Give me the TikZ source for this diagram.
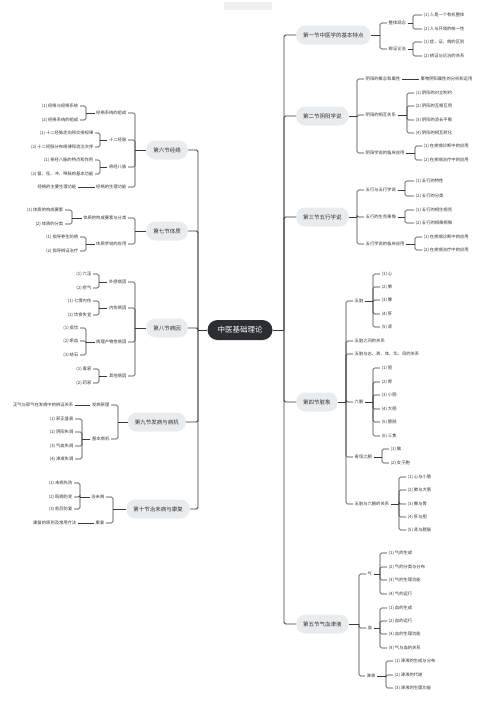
\documentclass[tikz,border=0pt]{standalone}
\usepackage{fontspec}
\setmainfont{Noto Sans CJK SC}
\usetikzlibrary{calc}
\definecolor{ln}{HTML}{3A3A3A}
\definecolor{tx}{HTML}{333333}
\definecolor{pill}{HTML}{E9ECEF}
\definecolor{rootc}{HTML}{2B2F33}
\tikzset{
  lf/.style={font=\fontsize{4.3}{5}\selectfont, text=tx, inner xsep=1.5pt, inner ysep=1pt},
  sec/.style={font=\fontsize{5.5}{6.5}\selectfont, text=tx, fill=pill, rounded corners=9pt, minimum height=19pt, inner xsep=7pt},
  rootn/.style={font=\fontsize{7.5}{9}\selectfont, text=white, fill=rootc, rounded corners=10pt, minimum height=20pt, minimum width=65pt},
  conn/.style={draw=ln, line width=0.65pt},
  trunk/.style={draw=ln, line width=0.9pt}
}
\newcommand\rbr[4][conn]{%
  \draw[#1] let \p1=(#2.east) in (#2.east) -- (#3pt,\y1);
  \foreach \c in {#4}{\draw[#1,rounded corners=1.5pt] let \p1=(#2.east) in (#3pt,\y1) |- (\c.west);}}
\newcommand\lbr[4][conn]{%
  \draw[#1] let \p1=(#2.west) in (#2.west) -- (#3pt,\y1);
  \foreach \c in {#4}{\draw[#1,rounded corners=1.5pt] let \p1=(#2.west) in (#3pt,\y1) |- (\c.east);}}
\begin{document}
\begin{tikzpicture}[x=1pt,y=-1pt]
\fill[white] (0,0) rectangle (497,718);
\useasboundingbox (0,0) rectangle (497,718);
\fill[gray!12] (224,2) rectangle (272,10);
% root
\node[rootn] (root) at (240,330) {中医基础理论};
% ---------- right side ----------
\node[sec,anchor=west] (s1) at (296,35) {第一节中医学的基本特点};
\node[sec,anchor=west] (s2) at (296,116) {第二节阴阳学说};
\node[sec,anchor=west] (s3) at (296,217) {第三节五行学说};
\node[sec,anchor=west] (s4) at (296,402) {第四节脏象};
\node[sec,anchor=west] (s5) at (296,624) {第五节气血津液};
\rbr[trunk]{root}{284}{s1,s2,s3,s4,s5}
% s1
\node[lf,anchor=west] (a1) at (387,23) {整体观念};
\node[lf,anchor=west] (a2) at (387,49) {辨证论治};
\node[lf,anchor=west] (a11) at (422,15) {(1)~人是一个有机整体};
\node[lf,anchor=west] (a12) at (422,29) {(2)~人与环境的统一性};
\node[lf,anchor=west] (a21) at (422,42) {(1)~症、证、病的区别};
\node[lf,anchor=west] (a22) at (422,56) {(2)~辨证与论治的关系};
\rbr{s1}{380}{a1,a2}
\rbr{a1}{413}{a11,a12}
\rbr{a2}{413}{a21,a22}
% s2
\node[lf,anchor=west] (b1) at (364,79) {阴阳的概念和属性};
\node[lf,anchor=west] (b2) at (364,115) {阴阳的相互关系};
\node[lf,anchor=west] (b3) at (364,153) {阴阳学说的临床应用};
\node[lf,anchor=west] (b11) at (419,79) {事物阴阳属性的分析和运用};
\node[lf,anchor=west] (b21) at (414,93) {(1)~阴阳的对立制约};
\node[lf,anchor=west] (b22) at (414,106) {(2)~阴阳的互根互用};
\node[lf,anchor=west] (b23) at (414,120) {(3)~阴阳的消长平衡};
\node[lf,anchor=west] (b24) at (414,133) {(4)~阴阳的相互转化};
\node[lf,anchor=west] (b31) at (422,146) {(1)~在疾病诊断中的应用};
\node[lf,anchor=west] (b32) at (422,160) {(2)~在疾病治疗中的应用};
\rbr{s2}{357}{b1,b2,b3}
\draw[conn] (b1.east) -- (b11.west);
\rbr{b2}{407}{b21,b22,b23,b24}
\rbr{b3}{415}{b31,b32}
% s3
\node[lf,anchor=west] (c1) at (364,190) {五行与五行学说};
\node[lf,anchor=west] (c2) at (364,217) {五行的生克乘侮};
\node[lf,anchor=west] (c3) at (364,244) {五行学说的临床应用};
\node[lf,anchor=west] (c11) at (414,181) {(1)~五行的特性};
\node[lf,anchor=west] (c12) at (414,196) {(2)~五行的分类};
\node[lf,anchor=west] (c21) at (414,210) {(1)~五行的相生相克};
\node[lf,anchor=west] (c22) at (414,223) {(2)~五行的相乘相侮};
\node[lf,anchor=west] (c31) at (422,237) {(1)~在疾病诊断中的应用};
\node[lf,anchor=west] (c32) at (422,250) {(2)~在疾病治疗中的应用};
\rbr{s3}{357}{c1,c2,c3}
\rbr{c1}{405}{c11,c12}
\rbr{c2}{405}{c21,c22}
\rbr{c3}{415}{c31,c32}
% s4
\node[lf,anchor=west] (d1) at (353,301) {五脏};
\node[lf,anchor=west] (d2) at (353,341) {五脏之间的关系};
\node[lf,anchor=west] (d3) at (353,354) {五脏与志、液、体、华、窍的关系};
\node[lf,anchor=west] (d4) at (353,402) {六腑};
\node[lf,anchor=west] (d5) at (353,457) {奇恒之腑};
\node[lf,anchor=west] (d6) at (353,504) {五脏与六腑的关系};
\rbr{s4}{346}{d1,d2,d3,d4,d5,d6}
\node[lf,anchor=west] (d11) at (380,274) {(1)~心};
\node[lf,anchor=west] (d12) at (380,287) {(2)~肺};
\node[lf,anchor=west] (d13) at (380,300) {(3)~脾};
\node[lf,anchor=west] (d14) at (380,314) {(4)~肝};
\node[lf,anchor=west] (d15) at (380,327) {(5)~肾};
\rbr{d1}{373}{d11,d12,d13,d14,d15}
\node[lf,anchor=west] (d41) at (380,368) {(1)~胆};
\node[lf,anchor=west] (d42) at (380,382) {(2)~胃};
\node[lf,anchor=west] (d43) at (380,395) {(3)~小肠};
\node[lf,anchor=west] (d44) at (380,409) {(4)~大肠};
\node[lf,anchor=west] (d45) at (380,422) {(5)~膀胱};
\node[lf,anchor=west] (d46) at (380,436) {(6)~三焦};
\rbr{d4}{373}{d41,d42,d43,d44,d45,d46}
\node[lf,anchor=west] (d51) at (389,449) {(1)~脑};
\node[lf,anchor=west] (d52) at (389,463) {(2)~女子胞};
\rbr{d5}{382}{d51,d52}
\node[lf,anchor=west] (d61) at (406,477) {(1)~心与小肠};
\node[lf,anchor=west] (d62) at (406,490) {(2)~肺与大肠};
\node[lf,anchor=west] (d63) at (406,504) {(3)~脾与胃};
\node[lf,anchor=west] (d64) at (406,517) {(4)~肝与胆};
\node[lf,anchor=west] (d65) at (406,530) {(5)~肾与膀胱};
\rbr{d6}{399}{d61,d62,d63,d64,d65}
% s5
\node[lf,anchor=west] (e1) at (366,574) {气};
\node[lf,anchor=west] (e2) at (366,628) {血};
\node[lf,anchor=west] (e3) at (365,676) {津液};
\rbr{s5}{359}{e1,e2,e3}
\node[lf,anchor=west] (e11) at (387,553) {(1)~气的生成};
\node[lf,anchor=west] (e12) at (387,567) {(2)~气的分类与分布};
\node[lf,anchor=west] (e13) at (387,580) {(3)~气的生理功能};
\node[lf,anchor=west] (e14) at (387,594) {(4)~气的运行};
\rbr{e1}{380}{e11,e12,e13,e14}
\node[lf,anchor=west] (e21) at (387,608) {(1)~血的生成};
\node[lf,anchor=west] (e22) at (387,621) {(2)~血的运行};
\node[lf,anchor=west] (e23) at (387,634) {(3)~血的生理功能};
\node[lf,anchor=west] (e24) at (387,648) {(4)~气与血的关系};
\rbr{e2}{380}{e21,e22,e23,e24}
\node[lf,anchor=west] (e31) at (393,661) {(1)~津液的生成与分布};
\node[lf,anchor=west] (e32) at (393,675) {(2)~津液的代谢};
\node[lf,anchor=west] (e33) at (393,688) {(3)~津液的生理功能};
\rbr{e3}{386}{e31,e32,e33}
% ---------- left side ----------
\node[sec,anchor=east] (s6) at (188,150) {第六节经络};
\node[sec,anchor=east] (s7) at (188,231) {第七节体质};
\node[sec,anchor=east] (s8) at (188,328) {第八节病因};
\node[sec,anchor=east] (s9) at (186,422) {第九节发病与病机};
\node[sec,anchor=east] (s10) at (190,509) {第十节治未病与康复};
\lbr[trunk]{root}{198}{s6,s7,s8,s9,s10}
% s6
\node[lf,anchor=east] (f1) at (128,113) {经络系统的组成};
\node[lf,anchor=east] (f2) at (128,140) {十二经脉};
\node[lf,anchor=east] (f3) at (128,167) {奇经八脉};
\node[lf,anchor=east] (f4) at (128,187) {经络的生理功能};
\lbr{s6}{135}{f1,f2,f3,f4}
\node[lf,anchor=east] (f11) at (80,106) {(1)~经络与经络系统};
\node[lf,anchor=east] (f12) at (80,120) {(2)~经络系统的组成};
\lbr{f1}{86}{f11,f12}
\node[lf,anchor=east] (f21) at (95,133) {(1)~十二经脉走向和交接规律};
\node[lf,anchor=east] (f22) at (95,147) {(2)~十二经脉分布规律和流注次序};
\lbr{f2}{100}{f21,f22}
\node[lf,anchor=east] (f31) at (95,160) {(1)~奇经八脉的特点和作用};
\node[lf,anchor=east] (f32) at (95,174) {(2)~督、任、冲、带脉的基本功能};
\lbr{f3}{100}{f31,f32}
\node[lf,anchor=east] (f41) at (78,187) {经络的主要生理功能};
\draw[conn] (f4.west) -- (f41.east);
% s7
\node[lf,anchor=east] (g1) at (128,218) {体质的构成要素与分类};
\node[lf,anchor=east] (g2) at (128,244) {体质学说的应用};
\lbr{s7}{135}{g1,g2}
\node[lf,anchor=east] (g11) at (65,210) {(1)~体质的构成要素};
\node[lf,anchor=east] (g12) at (65,224) {(2)~体质的分类};
\lbr{g1}{72}{g11,g12}
\node[lf,anchor=east] (g21) at (80,237) {(1)~指导养生防病};
\node[lf,anchor=east] (g22) at (80,251) {(2)~指导辨证治疗};
\lbr{g2}{86}{g21,g22}
% s8
\node[lf,anchor=east] (h1) at (128,282) {外感病因};
\node[lf,anchor=east] (h2) at (128,308) {内伤病因};
\node[lf,anchor=east] (h3) at (128,342) {病理产物性病因};
\node[lf,anchor=east] (h4) at (128,376) {其他病因};
\lbr{s8}{135}{h1,h2,h3,h4}
\node[lf,anchor=east] (h11) at (93,274) {(1)~六淫};
\node[lf,anchor=east] (h12) at (93,288) {(2)~疠气};
\lbr{h1}{99}{h11,h12}
\node[lf,anchor=east] (h21) at (93,301) {(1)~七情内伤};
\node[lf,anchor=east] (h22) at (93,315) {(2)~饮食失宜};
\lbr{h2}{99}{h21,h22}
\node[lf,anchor=east] (h31) at (80,328) {(1)~痰饮};
\node[lf,anchor=east] (h32) at (80,341) {(2)~瘀血};
\node[lf,anchor=east] (h33) at (80,355) {(3)~结石};
\lbr{h3}{86}{h31,h32,h33}
\node[lf,anchor=east] (h41) at (93,369) {(1)~毒邪};
\node[lf,anchor=east] (h42) at (93,383) {(2)~药邪};
\lbr{h4}{99}{h41,h42}
% s9
\node[lf,anchor=east] (i1) at (111,405) {发病原理};
\node[lf,anchor=east] (i2) at (111,439) {基本病机};
\lbr{s9}{118}{i1,i2}
\node[lf,anchor=east] (i11) at (75,405) {正气与邪气在发病中的辨证关系};
\draw[conn] (i1.west) -- (i11.east);
\node[lf,anchor=east] (i21) at (75,419) {(1)~邪正盛衰};
\node[lf,anchor=east] (i22) at (75,432) {(2)~阴阳失调};
\node[lf,anchor=east] (i23) at (75,446) {(3)~气血失调};
\node[lf,anchor=east] (i24) at (75,459) {(4)~津液失调};
\lbr{i2}{82}{i21,i22,i23,i24}
% s10
\node[lf,anchor=east] (j1) at (106,497) {治未病};
\node[lf,anchor=east] (j2) at (106,523) {康复};
\lbr{s10}{113}{j1,j2}
\node[lf,anchor=east] (j11) at (74,483) {(1)~未病先防};
\node[lf,anchor=east] (j12) at (74,497) {(2)~既病防变};
\node[lf,anchor=east] (j13) at (74,509) {(3)~愈后防复};
\lbr{j1}{80}{j11,j12,j13}
\node[lf,anchor=east] (j21) at (78,523) {康复的原则及常用疗法};
\draw[conn] (j2.west) -- (j21.east);
\end{tikzpicture}
\end{document}
